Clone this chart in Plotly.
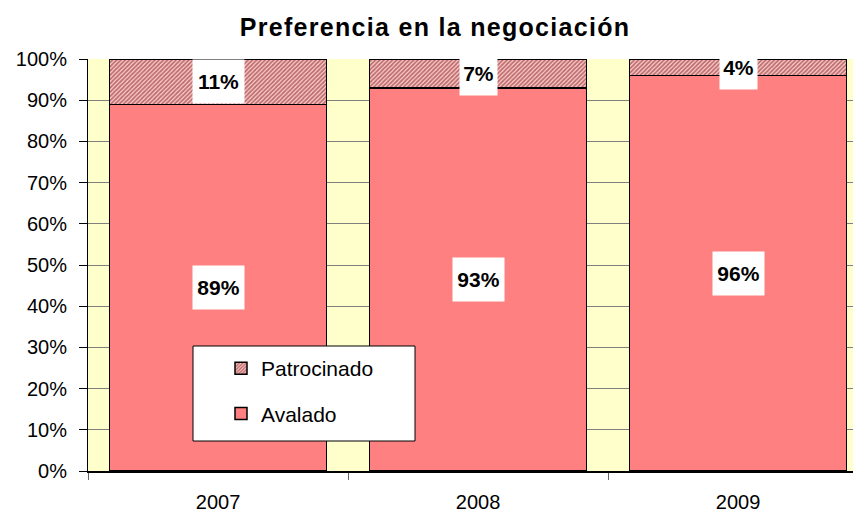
import plotly.graph_objects as go

# Data: share of each negotiation type per year (%)
years = ["2007", "2008", "2009"]
avalado = [89, 93, 96]
patrocinado = [11, 7, 4]
y_ticks = list(range(0, 101, 10))
y_tick_text = [f"{v}%" for v in y_ticks]

font_family = "Liberation Sans, Arial, sans-serif"

fig = go.Figure()

fig.add_trace(go.Bar(
    x=years, y=avalado, name="Avalado",
    marker=dict(color="#FF8080", line=dict(color="#000000", width=1.5)),
    legendgroup="a", legendrank=2,
))
fig.add_trace(go.Bar(
    x=years, y=patrocinado, name="Patrocinado",
    marker=dict(
        color="#FFC8C8",
        line=dict(color="#000000", width=1.5),
        pattern=dict(shape="/", fgcolor="#7A0A0A", bgcolor="#FFD0D0",
                     size=3, solidity=0.6),
    ),
    legendgroup="p", legendrank=1,
))

# Value labels in white boxes, centred on each segment
label_font = dict(size=21, color="#000000", family=font_family)
annotations = []
for i, (a, p) in enumerate(zip(avalado, patrocinado)):
    annotations.append(dict(x=i, y=a / 2, text=f"<b>{a}%</b>", showarrow=False,
                            bgcolor="#FFFFFF", width=51, height=43, borderpad=0,
                            font=label_font))
    annotations.append(dict(x=i, y=a + p / 2, text=f"<b>{p}%</b>", showarrow=False,
                            bgcolor="#FFFFFF", width=37 if p < 10 else 51,
                            height=43, borderpad=0, font=label_font))

# Legend frame
shapes = [dict(type="rect", xref="paper", yref="paper",
               x0=(193 - 88) / 765, x1=(415 - 88) / 765,
               y0=(471 - 441) / 412, y1=(471 - 346) / 412,
               fillcolor="#FFFFFF", line=dict(color="#000000", width=1),
               layer="above")]

fig.update_layout(
    width=853, height=513,
    margin=dict(l=88, r=0, t=59, b=42),
    paper_bgcolor="#FFFFFF",
    plot_bgcolor="#FFFFCC",
    barmode="stack",
    bargap=0.165,
    title=dict(text="<b>Preferencia en la negociación</b>",
               x=435 / 853, xanchor="center", y=1 - 27 / 513, yanchor="middle",
               font=dict(size=25, color="#000000", family=font_family)),
    font=dict(family=font_family, color="#000000"),
    xaxis=dict(type="category", range=[-0.5, 2.442], automargin=False,
               showgrid=False, showline=True, linecolor="#000000", linewidth=1.5,
               ticks="outside", tickson="boundaries", ticklen=7, tickcolor="#666666",
               ticklabelstandoff=12,
               tickfont=dict(size=20), fixedrange=True),
    yaxis=dict(range=[0, 100], tickmode="array", tickvals=y_ticks, ticktext=y_tick_text,
               automargin=False,
               showgrid=True, gridcolor="#808080", gridwidth=1,
               showline=True, linecolor="#000000", linewidth=1,
               ticks="outside", ticklen=8, tickcolor="#000000",
               ticklabelstandoff=8,
               tickfont=dict(size=20), zeroline=False, fixedrange=True),
    legend=dict(x=(221 - 88) / 765, xanchor="left",
                y=(471 - 348) / 412, yanchor="top",
                bgcolor="rgba(0,0,0,0)", borderwidth=0,
                traceorder="grouped", tracegroupgap=15,
                font=dict(size=21, color="#000000", family=font_family)),
    annotations=annotations,
    shapes=shapes,
)

# Slightly widen the title's letter spacing
title_style = """
document.querySelectorAll('.gtitle').forEach(function (el) {
    el.style.letterSpacing = '1.3px';
});
"""

fig.write_html("out.html", post_script=title_style)
